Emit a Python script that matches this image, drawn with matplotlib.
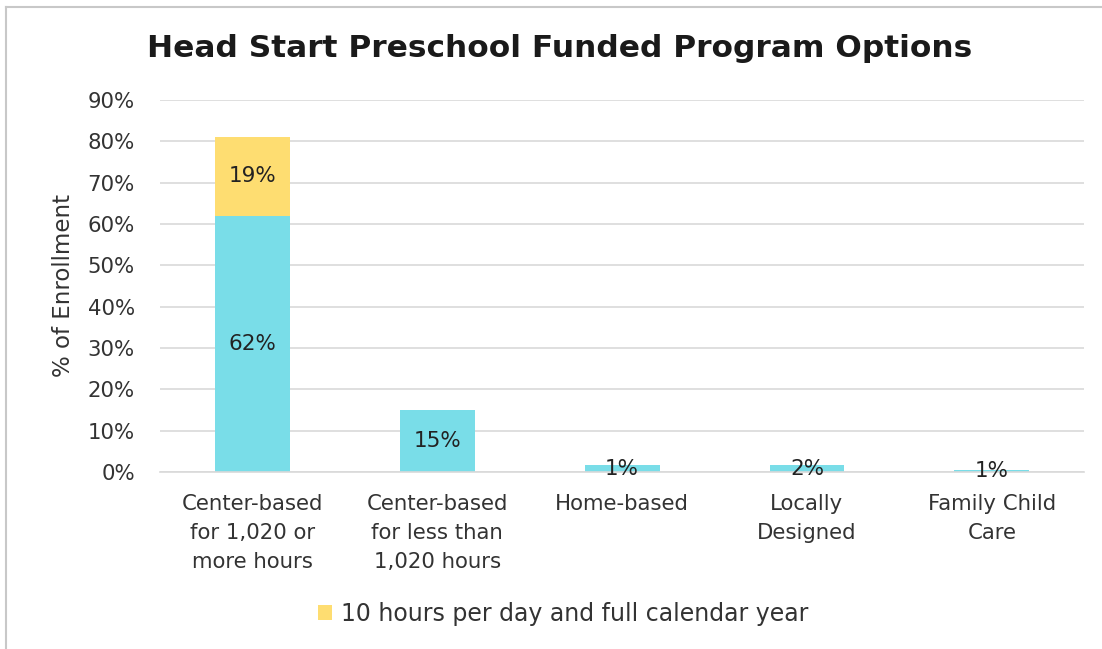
import matplotlib.pyplot as plt
from matplotlib.lines import Line2D
from matplotlib.ticker import PercentFormatter

categories = ["Center-based\nfor 1,020 or\nmore hours", "Center-based\nfor less than\n1,020 hours",
              "Home-based", "Locally\nDesigned", "Family Child\nCare"]
base = [62, 15, 1.6, 1.6, 0.6]
full_year = [19, 0, 0, 0, 0]
base_labels = ["62%", "15%", "1%", "2%", "1%"]
full_labels = ["19%", "", "", "", ""]
legend_label = "10 hours per day and full calendar year"

cyan = "#79dde8"
yellow = "#fedd71"
txt = "#333333"

plt.rcParams['font.family'] = ['DejaVu Sans']

fig = plt.figure(figsize=(11.02, 6.49), dpi=100)
ax = fig.add_axes([0.145, 0.2727, 0.839, 0.5733])

x = range(len(categories))
b1 = ax.bar(x, base, width=0.405, color=cyan, zorder=2)
b2 = ax.bar(x, full_year, width=0.405, bottom=base, color=yellow, zorder=2, label=legend_label)

for i in x:
    ax.text(i, base[i] / 2, base_labels[i], ha="center", va="center", fontsize=15.5, color="#222222", zorder=3)
    if full_labels[i]:
        ax.text(i, base[i] + full_year[i] / 2, full_labels[i], ha="center", va="center",
                fontsize=15.5, color="#222222", zorder=3)

ax.set_ylim(0, 90)
ax.set_xlim(-0.5, 4.5)
ax.set_yticks(range(0, 91, 10))
ax.yaxis.set_major_formatter(PercentFormatter(decimals=0))
ax.grid(axis="y", color="#d9d9d9", linewidth=1.2, zorder=0)
for s in ["top", "right", "left"]:
    ax.spines[s].set_visible(False)
ax.spines["bottom"].set_color("#d9d9d9")
ax.spines["bottom"].set_linewidth(1.2)
ax.tick_params(axis="both", length=0, labelsize=15.3, colors=txt)
ax.tick_params(axis="y", pad=18)
ax.tick_params(axis="x", pad=16)
ax.set_xticks(list(x))
ax.set_xticklabels(categories, linespacing=1.55)
ax.set_ylabel("% of Enrollment", fontsize=16.5, color=txt, labelpad=9)

fig.text(0.508, 0.925, "Head Start Preschool Funded Program Options", ha="center", va="center",
         fontsize=22.5, fontweight="bold", color="#1a1a1a")

# only the yellow series is in the legend
fig.legend(handles=[b2], labels=[legend_label], loc="center", bbox_to_anchor=(0.511, 0.054),
           frameon=False, fontsize=17, handlelength=0.6, handleheight=0.6, handletextpad=0.4,
           labelcolor=txt)

# outer frame (top and left edges visible)
fig.add_artist(Line2D([0.0055, 1.0], [0.989, 0.989], color="#c8c8c8", linewidth=1.5, transform=fig.transFigure))
fig.add_artist(Line2D([0.0055, 0.0055], [0.0, 0.989], color="#c8c8c8", linewidth=1.5, transform=fig.transFigure))

fig.savefig("out.png", dpi=100)
